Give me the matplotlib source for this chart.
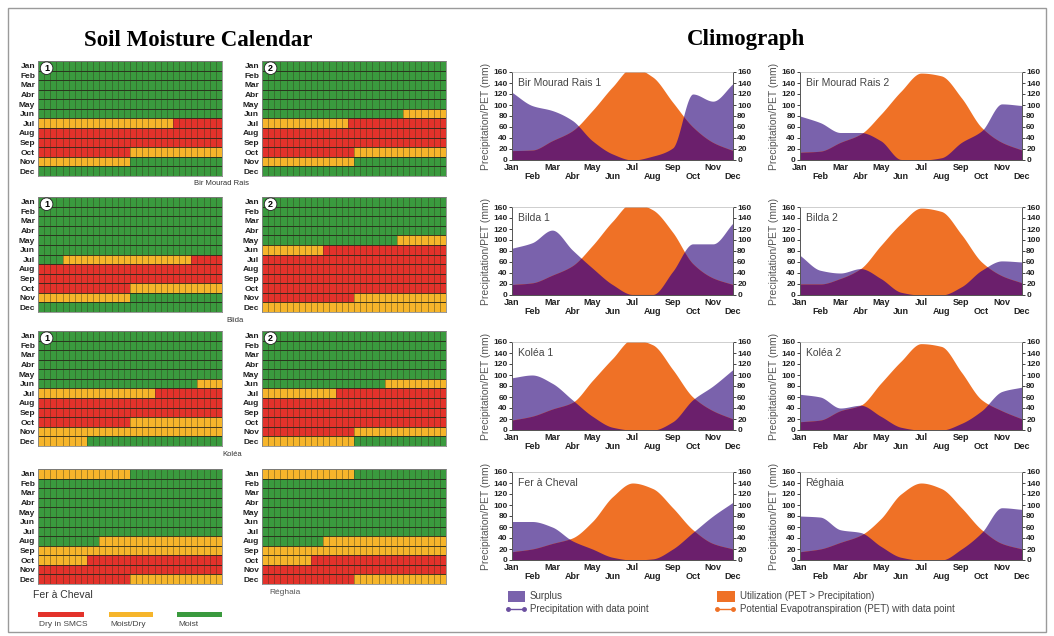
import re
import numpy as np
import matplotlib
matplotlib.use("Agg")
import matplotlib.pyplot as plt
from matplotlib.colors import ListedColormap
from matplotlib.patches import Rectangle
from matplotlib.lines import Line2D

W, H = 1054, 636
plt.rcParams['font.family'] = ['Liberation Sans', 'DejaVu Sans']

# ---------------- data ----------------
CAL_MONTHS = ["Jan", "Feb", "Mar", "Abr", "May", "Jun", "Jul", "Aug", "Sep", "Oct", "Nov", "Dec"]
CLIM_MONTHS = ["Jan", "Feb", "Mar", "Abr", "May", "Jun", "Jul", "Aug", "Sep", "Oct", "Nov", "Dec"]

# soil moisture calendar, run-length per month (G=moist, Y=moist/dry, R=dry), 30 day-columns
bmr1_cal = ["G30", "G30", "G30", "G30", "G30", "G30", "Y22R8", "R30", "R30", "R15Y15", "Y15G15", "G30"]
bmr2_cal = ["G30", "G30", "G30", "G30", "G30", "G23Y7", "Y14R16", "R30", "R30", "R15Y15", "Y15G15", "G30"]
blida1_cal = ["G30", "G30", "G30", "G30", "G30", "G30", "G4Y21R5", "R30", "R30", "R15Y15", "Y15G15", "G30"]
blida2_cal = ["G30", "G30", "G30", "G30", "G22Y8", "Y10R20", "R30", "R30", "R30", "R30", "R15Y15", "Y30"]
kolea1_cal = ["G30", "G30", "G30", "G30", "G30", "G26Y4", "Y19R11", "R30", "R30", "R15Y15", "Y30", "Y8G22"]
kolea2_cal = ["G30", "G30", "G30", "G30", "G30", "G20Y10", "Y12R18", "R30", "R30", "R30", "R15Y15", "Y15G15"]
fer_cal = ["Y15G15", "G30", "G30", "G30", "G30", "G30", "G30", "G10Y20", "Y30", "Y8R22", "R30", "R15Y15"]
reghaia_cal = ["Y15G15", "G30", "G30", "G30", "G30", "G30", "G30", "G10Y20", "Y30", "Y8R22", "R30", "R15Y15"]

# climographs: monthly precipitation and PET (mm)
bmr1_p = [123, 99, 90, 72, 35, 11, 0, 7, 22, 120, 107, 139]
bmr1_pet = [17, 18, 35, 53, 90, 133, 168, 151, 105, 60, 32, 17]
bmr2_p = [80, 68, 50, 50, 35, 1, 0, 4, 32, 53, 102, 99]
bmr2_pet = [14, 16, 32, 47, 83, 125, 158, 153, 113, 59, 32, 18]
blida1_p = [85, 95, 118, 82, 49, 19, 1, 1, 43, 93, 93, 131]
blida1_pet = [19, 22, 36, 53, 90, 134, 168, 155, 114, 57, 31, 19]
blida2_p = [72, 45, 40, 48, 30, 5, 0, 0, 15, 45, 62, 60]
blida2_pet = [20, 20, 30, 48, 90, 130, 158, 152, 110, 60, 35, 22]
kolea1_p = [95, 100, 85, 55, 25, 5, 0, 0, 15, 55, 80, 110]
kolea1_pet = [18, 25, 38, 50, 90, 130, 165, 155, 110, 60, 35, 20]
kolea2_p = [65, 60, 40, 45, 25, 5, 0, 0, 12, 35, 70, 78]
kolea2_pet = [15, 18, 35, 45, 85, 125, 157, 152, 105, 55, 35, 20]
fer_p = [70, 70, 60, 35, 20, 5, 0, 2, 20, 50, 80, 105]
fer_pet = [15, 20, 30, 40, 70, 115, 140, 130, 95, 55, 30, 20]
reghaia_p = [80, 78, 55, 50, 25, 5, 0, 0, 20, 50, 95, 92]
reghaia_pet = [15, 20, 32, 45, 75, 120, 140, 130, 95, 55, 30, 20]

# ---------------- style ----------------
GREEN, YELLOW, RED = "#3a9a3e", "#f6b52b", "#e3322b"
LIGHT, DARK, ORANGE = "#7a62ac", "#6b1f6c", "#ef7126"

fig = plt.figure(figsize=(W / 100, H / 100), dpi=100)


def px_axes(x0, y0, x1, y1):
    return fig.add_axes([x0 / W, 1 - y1 / H, (x1 - x0) / W, (y1 - y0) / H])


def fig_text(x, y, s, **kw):
    fig.text(x / W, 1 - y / H, s, **kw)


# frame
fig.add_artist(Rectangle((8 / W, 4 / H), 1038 / W, 624 / H, transform=fig.transFigure,
                         fill=False, ec="#9a9a9a", lw=1.0))

fig_text(198, 40, "Soil Moisture Calendar", family="Liberation Serif", fontweight="bold",
         fontsize=16.5, ha="center", va="center")
fig_text(746, 40, "Climograph", family="Liberation Serif", fontweight="bold",
         fontsize=16.5, ha="center", va="center")

CODE = {"G": 0, "Y": 1, "R": 2}


def decode(s):
    out = []
    for c, n in re.findall(r"([GYR])(\d+)", s):
        out += [CODE[c]] * int(n)
    return out


def draw_cal(ax, rows, number=None):
    grid = np.array([decode(r) for r in rows])
    cmap = ListedColormap([GREEN, YELLOW, RED])
    ax.pcolormesh(np.arange(grid.shape[1] + 1), np.arange(13), grid, cmap=cmap, vmin=-0.5, vmax=2.5,
                  edgecolors=(0.2, 0.2, 0.1, 0.4), linewidth=0.4)
    ax.hlines(np.arange(13), 0, grid.shape[1], color=(0.15, 0.15, 0.1, 0.8), lw=0.7)
    ax.set_xlim(0, grid.shape[1])
    ax.set_ylim(12, 0)
    ax.set_xticks([])
    ax.set_yticks(np.arange(12) + 0.5)
    ax.set_yticklabels(CAL_MONTHS, fontsize=6, fontweight="bold", color="#222")
    ax.tick_params(length=0, pad=2)
    for s in ax.spines.values():
        s.set_color("#888")
        s.set_linewidth(0.6)
    if number:
        ax.text(1.4, 0.75, number, fontsize=6.5, fontweight="bold", ha="center", va="center",
                bbox=dict(boxstyle="circle,pad=0.2", fc="white", ec="#222", lw=0.6), zorder=5)


cal_rows = [61, 197, 331, 469]
cal_h = 115
cal_sets = [(bmr1_cal, bmr2_cal, "1", "2"), (blida1_cal, blida2_cal, "1", "2"),
            (kolea1_cal, kolea2_cal, "1", "2"), (fer_cal, reghaia_cal, None, None)]
for y0, (a, b, na, nb) in zip(cal_rows, cal_sets):
    draw_cal(px_axes(38, y0, 222, y0 + cal_h), a, na)
    draw_cal(px_axes(262, y0, 446, y0 + cal_h), b, nb)

fig_text(222, 184, "Bir Mourad Rais", fontsize=5.5, color="#333", ha="center", va="center")
fig_text(235, 320, "Blida", fontsize=5.5, color="#333", ha="center", va="center")
fig_text(232, 455, "Koléa", fontsize=5.5, color="#333", ha="center", va="center")
fig_text(33, 595, "Fer à Cheval", fontsize=7.5, color="#333", ha="left", va="center")
fig_text(269, 593, "Réghaia", fontsize=6, color="#555", ha="left", va="center")

for (x0, x1, col), lab in zip([(38, 84, RED), (109, 153, YELLOW), (177, 222, GREEN)],
                              ["Dry in SMCS", "Moist/Dry", "Moist"]):
    fig.add_artist(Rectangle((x0 / W, 1 - 617 / H), (x1 - x0) / W, 5 / H, transform=fig.transFigure,
                             fc=col, ec="none"))
    fig_text(x0 + 1, 624, lab, fontsize=6, color="#444", ha="left", va="center")


def pchip(x, y, xs):
    x = np.asarray(x, float)
    y = np.asarray(y, float)
    h = np.diff(x)
    d = np.diff(y) / h
    m = np.zeros_like(y)
    for k in range(1, len(y) - 1):
        if d[k - 1] * d[k] > 0:
            w1 = 2 * h[k] + h[k - 1]
            w2 = h[k] + 2 * h[k - 1]
            m[k] = (w1 + w2) / (w1 / d[k - 1] + w2 / d[k])
    m[0], m[-1] = d[0], d[-1]
    idx = np.clip(np.searchsorted(x, xs) - 1, 0, len(x) - 2)
    t = (xs - x[idx]) / h[idx]
    h00 = 2 * t ** 3 - 3 * t ** 2 + 1
    h10 = t ** 3 - 2 * t ** 2 + t
    h01 = -2 * t ** 3 + 3 * t ** 2
    h11 = t ** 3 - t ** 2
    return h00 * y[idx] + h10 * h[idx] * m[idx] + h01 * y[idx + 1] + h11 * h[idx] * m[idx + 1]


MX = np.arange(12)


def climo(ax, name, precip, pet):
    xs = np.linspace(0, 11, 600)
    p = np.clip(pchip(MX, precip, xs), 0, None)
    e = np.clip(pchip(MX, pet, xs), 0, None)
    ax.fill_between(xs, 0, p, color=LIGHT, lw=0)
    ax.fill_between(xs, 0, e, color=ORANGE, lw=0)
    ax.fill_between(xs, 0, np.minimum(p, e), color=DARK, lw=0)
    ax.set_xlim(0, 11)
    ax.set_ylim(0, 160)
    ax.set_yticks(np.arange(0, 161, 20))
    ax.tick_params(axis="y", left=True, right=True, labelleft=True, labelright=True,
                   length=2, pad=1, labelsize=6, colors="#222", width=0.6)
    ax.set_xticks(MX)
    ax.set_xticklabels([m if i % 2 == 0 else "\n" + m for i, m in enumerate(CLIM_MONTHS)],
                       linespacing=1.0)
    ax.tick_params(axis="x", length=0, pad=2, labelsize=6.5, colors="#222")
    for lab in ax.get_xticklabels() + ax.yaxis.get_ticklabels(which="both"):
        lab.set_fontweight("bold")
    for lab in ax.yaxis.get_majorticklabels():
        lab.set_fontweight("bold")
    for side in ["left", "right", "bottom"]:
        ax.spines[side].set_color("#555")
        ax.spines[side].set_linewidth(0.7)
    ax.spines["top"].set_color("#bbb")
    ax.spines["top"].set_linewidth(0.5)
    ax.set_ylabel("Precipitation/PET (mm)", fontsize=7.5, color="#555", labelpad=2)
    ax.text(0.025, 0.93, name, transform=ax.transAxes, fontsize=7.5, color="#444", va="top", ha="left")


clim_tops = [72, 207, 342, 472]
clim_h = 88
clim_sets = [("Bir Mourad Rais 1", bmr1_p, bmr1_pet, "Bir Mourad Rais 2", bmr2_p, bmr2_pet),
             ("Bilda 1", blida1_p, blida1_pet, "Bilda 2", blida2_p, blida2_pet),
             ("Koléa 1", kolea1_p, kolea1_pet, "Koléa 2", kolea2_p, kolea2_pet),
             ("Fer à Cheval", fer_p, fer_pet, "Réghaia", reghaia_p, reghaia_pet)]
for y0, (n1, p1, e1, n2, p2, e2) in zip(clim_tops, clim_sets):
    climo(px_axes(512, y0, 733, y0 + clim_h), n1, p1, e1)
    climo(px_axes(800, y0, 1022, y0 + clim_h), n2, p2, e2)

# legend
fig.add_artist(Rectangle((508 / W, 1 - 602 / H), 17 / W, 11 / H, transform=fig.transFigure, fc=LIGHT, ec="none"))
fig.add_artist(Rectangle((717 / W, 1 - 602 / H), 18 / W, 11 / H, transform=fig.transFigure, fc=ORANGE, ec="none"))
fig.add_artist(Line2D([508 / W, 524 / W], [1 - 609 / H] * 2, transform=fig.transFigure, color="#6b4fa0",
                      lw=1, marker="o", ms=2.5))
fig.add_artist(Line2D([717 / W, 733 / W], [1 - 609 / H] * 2, transform=fig.transFigure, color=ORANGE,
                      lw=1, marker="o", ms=2.5))
fig_text(530, 596, "Surplus", fontsize=7, color="#444", va="center")
fig_text(530, 609, "Precipitation with data point", fontsize=7, color="#444", va="center")
fig_text(740, 596, "Utilization (PET > Precipitation)", fontsize=7, color="#444", va="center")
fig_text(740, 609, "Potential Evapotranspiration (PET) with data point", fontsize=7, color="#444", va="center")

fig.savefig("out.png", dpi=100)
